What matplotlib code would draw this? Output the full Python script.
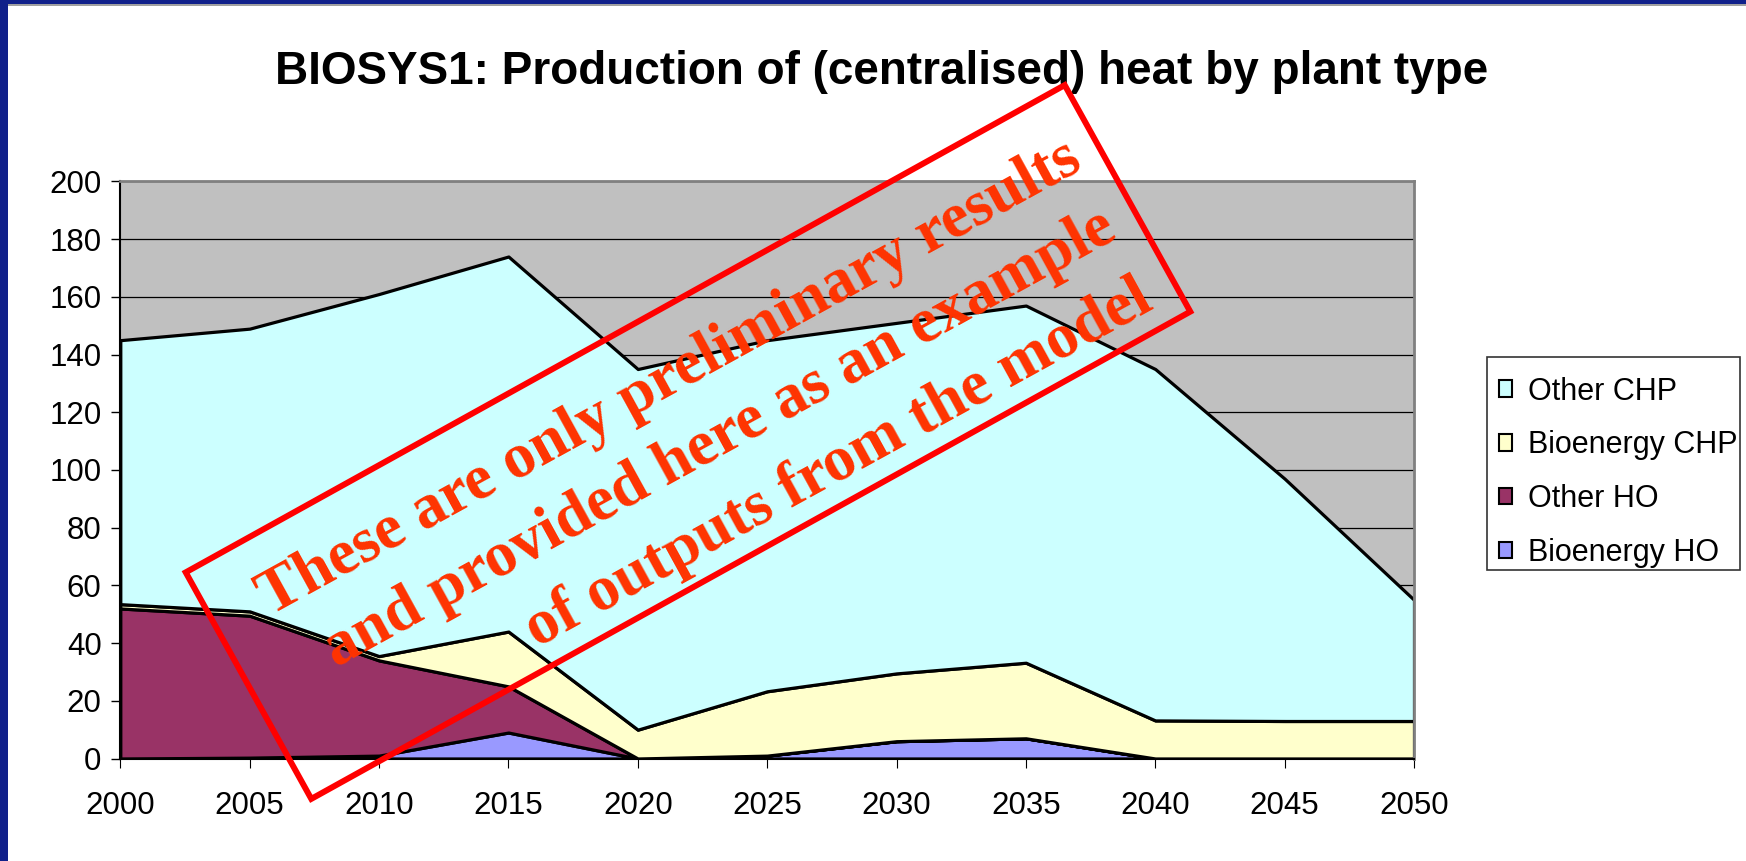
import numpy as np
import matplotlib
matplotlib.use("Agg")
import matplotlib.pyplot as plt
from matplotlib.patches import Polygon, Rectangle, Patch
from matplotlib.transforms import IdentityTransform

# ---------------- data ----------------
years = [2000, 2005, 2010, 2015, 2020, 2025, 2030, 2035, 2040, 2045, 2050]
bioenergy_ho = [0, 0.3, 1, 9, 0, 1, 6, 7, 0, 0, 0]
other_ho = [52, 49.2, 33, 16, 0, 0, 0, 0, 0, 0, 0]
bioenergy_chp = [1.5, 1.5, 1.5, 19, 10, 22.3, 23.5, 26.2, 13.2, 13, 13]
other_chp = [91.5, 98, 125.5, 130, 125, 121.7, 121.5, 123.8, 121.8, 84, 42]
series_labels = ["Bioenergy HO", "Other HO", "Bioenergy CHP", "Other CHP"]
series_colors = ["#9999FF", "#993366", "#FFFFCC", "#CCFFFF"]
yticks = [0, 20, 40, 60, 80, 100, 120, 140, 160, 180, 200]
title = "BIOSYS1: Production of (centralised) heat by plant type"
watermark_lines = ["These are only preliminary results",
                   "and provided here as an example",
                   "of outputs from the model"]

sans = "Liberation Sans"
tick_size = 22.5
legend_size = 22.0

# ---------------- figure ----------------
W, H = 1746, 861
fig = plt.figure(figsize=(W / 100, H / 100), dpi=100)
fig.patch.set_facecolor("white")

# blue frame (left and top)
fig.patches.append(Rectangle((0, 0), 8 / W, 1, transform=fig.transFigure,
                             facecolor="#10208A", edgecolor="none", zorder=0))
fig.patches.append(Rectangle((0, 1 - 4 / H), 1, 4 / H, transform=fig.transFigure,
                             facecolor="#10208A", edgecolor="none", zorder=0))
fig.patches.append(Rectangle((8 / W, 1 - 5.5 / H), 1, 1.5 / H, transform=fig.transFigure,
                             facecolor="#A0A0A0", edgecolor="none", zorder=0))

left, right, top, bottom = 120.3, 1414, 181.5, 758.5
ax = fig.add_axes([left / W, 1 - bottom / H, (right - left) / W, (bottom - top) / H])
ax.set_facecolor("#C0C0C0")

ax.stackplot(years, bioenergy_ho, other_ho, bioenergy_chp, other_chp,
             colors=series_colors, labels=series_labels,
             edgecolor="black", linewidth=2.3, zorder=2)

ax.set_xlim(2000, 2050)
ax.set_ylim(0, 200)
ax.set_xticks(years)
ax.set_yticks(yticks)
ax.yaxis.grid(True, color="black", linewidth=0.9, zorder=1)
ax.set_axisbelow(True)

for lab in ax.get_xticklabels() + ax.get_yticklabels():
    lab.set_fontfamily(sans)
    lab.set_fontsize(tick_size)
ax.tick_params(axis="y", direction="out", length=6.5, width=1, pad=7, colors="black")
ax.tick_params(axis="x", direction="out", length=6.5, width=0.8, pad=17, colors="black")

ax.spines["left"].set_color("black")
ax.spines["left"].set_linewidth(1.5)
ax.spines["bottom"].set_color("black")
ax.spines["bottom"].set_linewidth(1.5)
ax.spines["top"].set_color("#808080")
ax.spines["top"].set_linewidth(2)
ax.spines["right"].set_color("#808080")
ax.spines["right"].set_linewidth(2)

# legend (reverse order, top = Other CHP), frame drawn separately
handles = [Patch(facecolor=c, edgecolor="black", linewidth=1.5) for c in series_colors][::-1]
leg = fig.legend(handles, series_labels[::-1], loc="upper left",
                 bbox_to_anchor=(1498.5 / W, 1 - 376.5 / H), bbox_transform=fig.transFigure,
                 prop={"family": sans, "size": legend_size},
                 frameon=False, borderaxespad=0,
                 handlelength=0.44, handleheight=0.44, handletextpad=0.52,
                 labelspacing=0.78, borderpad=0.0)
fig.patches.append(Rectangle((1487 / W, 1 - 570 / H), (1740 - 1487) / W, (570 - 357) / H,
                             transform=fig.transFigure, facecolor="white",
                             edgecolor="#333333", linewidth=1.2, zorder=0.5))

# title
fig.text(882 / W, 1 - 83.5 / H, title, ha="center", va="baseline",
         fontsize=33, fontweight="bold", family="Liberation Sans")

# ---------------- watermark ----------------
ang = 29.0
rad = np.deg2rad(ang)
U = np.array([np.cos(rad), -np.sin(rad)])   # along box, image coords (y down)
N = np.array([np.sin(rad), np.cos(rad)])    # normal, downwards
center = np.array([688.0, 442.0])
rw, rh = 1005.0, 259.0
corners = []
for du, dn in [(-rw / 2, -rh / 2), (rw / 2, -rh / 2), (rw / 2, rh / 2), (-rw / 2, rh / 2)]:
    p = center + du * U + dn * N
    corners.append([p[0], H - p[1]])
fig.patches.append(Polygon(corners, closed=True, fill=False, edgecolor="#FF0000",
                           linewidth=4.3, transform=IdentityTransform(), zorder=10))

text_ang = 28.8
text_anchor_u = [479, 476, 474]
text_anchor_n = [-47, 30, 109]
for line, du, dn in zip(watermark_lines, text_anchor_u, text_anchor_n):
    p = center + du * U + dn * N
    fig.text(p[0], H - p[1], line, transform=IdentityTransform(),
             ha="right", va="baseline", rotation=text_ang, rotation_mode="anchor",
             fontsize=45.8, fontweight="bold", family="Liberation Serif",
             color="#FF3300", zorder=11)

fig.savefig("out.png", dpi=100)
